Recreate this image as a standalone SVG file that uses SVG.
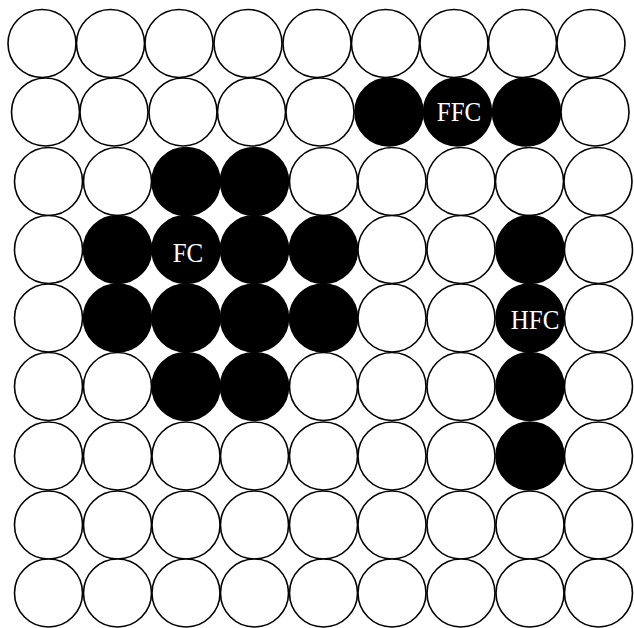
<svg xmlns="http://www.w3.org/2000/svg" width="634" height="628" viewBox="0 0 634 628">
<style>
.o{fill:#fff;stroke:#000;stroke-width:1.6}
.f{fill:#000;stroke:#000;stroke-width:1.6}
.t{fill:#fff;font-family:"Liberation Serif","Times New Roman",serif;font-size:25px;text-anchor:middle}
</style>
<rect width="634" height="628" fill="#fff"/>
<g id="row1">
<circle class="o" cx="42" cy="43.5" r="34"/><circle class="o" cx="110.5" cy="43.5" r="34"/><circle class="o" cx="179" cy="43.5" r="34"/><circle class="o" cx="248" cy="43.5" r="34"/><circle class="o" cx="317" cy="43.5" r="34"/><circle class="o" cx="385.5" cy="43.5" r="34"/><circle class="o" cx="454" cy="43.5" r="34"/><circle class="o" cx="522.5" cy="43.5" r="34"/><circle class="o" cx="591" cy="43.5" r="34"/>
</g>
<g id="row2">
<circle class="o" cx="45.5" cy="112" r="34"/><circle class="o" cx="114" cy="112" r="34"/><circle class="o" cx="183" cy="112" r="34"/><circle class="o" cx="251.5" cy="112" r="34"/><circle class="o" cx="320" cy="112" r="34"/><circle class="f" cx="389" cy="112" r="34"/><circle class="f" cx="457.5" cy="112" r="34"/><circle class="f" cx="526.5" cy="112" r="34"/><circle class="o" cx="595" cy="112" r="34"/>
</g>
<g id="row3">
<circle class="o" cx="48.5" cy="181.5" r="34"/><circle class="o" cx="117.5" cy="181.5" r="34"/><circle class="f" cx="186" cy="181.5" r="34"/><circle class="f" cx="254.5" cy="181.5" r="34"/><circle class="o" cx="323.5" cy="181.5" r="34"/><circle class="o" cx="392" cy="181.5" r="34"/><circle class="o" cx="461" cy="181.5" r="34"/><circle class="o" cx="529.5" cy="181.5" r="34"/><circle class="o" cx="598" cy="181.5" r="34"/>
</g>
<g id="row4">
<circle class="o" cx="48.5" cy="249.5" r="34"/><circle class="f" cx="117.5" cy="249.5" r="34"/><circle class="f" cx="186" cy="249.5" r="34"/><circle class="f" cx="254.5" cy="249.5" r="34"/><circle class="f" cx="323.5" cy="249.5" r="34"/><circle class="o" cx="392" cy="249.5" r="34"/><circle class="o" cx="461" cy="249.5" r="34"/><circle class="f" cx="530" cy="249.5" r="34"/><circle class="o" cx="598.5" cy="249.5" r="34"/>
</g>
<g id="row5">
<circle class="o" cx="48.5" cy="318" r="34"/><circle class="f" cx="117.5" cy="318" r="34"/><circle class="f" cx="186" cy="318" r="34"/><circle class="f" cx="254.5" cy="318" r="34"/><circle class="f" cx="323.5" cy="318" r="34"/><circle class="o" cx="392" cy="318" r="34"/><circle class="o" cx="461" cy="318" r="34"/><circle class="f" cx="530" cy="318" r="34"/><circle class="o" cx="598.5" cy="318" r="34"/>
</g>
<g id="row6">
<circle class="o" cx="48.5" cy="386.5" r="34"/><circle class="o" cx="117.5" cy="386.5" r="34"/><circle class="f" cx="186" cy="386.5" r="34"/><circle class="f" cx="254.5" cy="386.5" r="34"/><circle class="o" cx="323.5" cy="386.5" r="34"/><circle class="o" cx="392" cy="386.5" r="34"/><circle class="o" cx="461" cy="386.5" r="34"/><circle class="f" cx="530" cy="386.5" r="34"/><circle class="o" cx="598.5" cy="386.5" r="34"/>
</g>
<g id="row7">
<circle class="o" cx="48.5" cy="456" r="34"/><circle class="o" cx="117.5" cy="456" r="34"/><circle class="o" cx="186" cy="456" r="34"/><circle class="o" cx="254.5" cy="456" r="34"/><circle class="o" cx="323.5" cy="456" r="34"/><circle class="o" cx="392" cy="456" r="34"/><circle class="o" cx="461" cy="456" r="34"/><circle class="f" cx="530" cy="456" r="34"/><circle class="o" cx="598.5" cy="456" r="34"/>
</g>
<g id="row8">
<circle class="o" cx="48.5" cy="525" r="34"/><circle class="o" cx="117.5" cy="525" r="34"/><circle class="o" cx="186" cy="525" r="34"/><circle class="o" cx="254.5" cy="525" r="34"/><circle class="o" cx="323.5" cy="525" r="34"/><circle class="o" cx="392" cy="525" r="34"/><circle class="o" cx="461" cy="525" r="34"/><circle class="o" cx="530" cy="525" r="34"/><circle class="o" cx="598.5" cy="525" r="34"/>
</g>
<g id="row9">
<circle class="o" cx="48.5" cy="593" r="34"/><circle class="o" cx="117.5" cy="593" r="34"/><circle class="o" cx="186" cy="593" r="34"/><circle class="o" cx="254.5" cy="593" r="34"/><circle class="o" cx="323.5" cy="593" r="34"/><circle class="o" cx="392" cy="593" r="34"/><circle class="o" cx="461" cy="593" r="34"/><circle class="o" cx="530" cy="593" r="34"/><circle class="o" cx="598.5" cy="593" r="34"/>
</g>
<g id="labels">
<text class="t" transform="translate(459 121) scale(1 1.12)">FFC</text>
<text class="t" transform="translate(188 262) scale(1 1.12)">FC</text>
<text class="t" transform="translate(535 329) scale(1 1.12)">HFC</text>
</g>
<g id="connectors"></g>
</svg>
